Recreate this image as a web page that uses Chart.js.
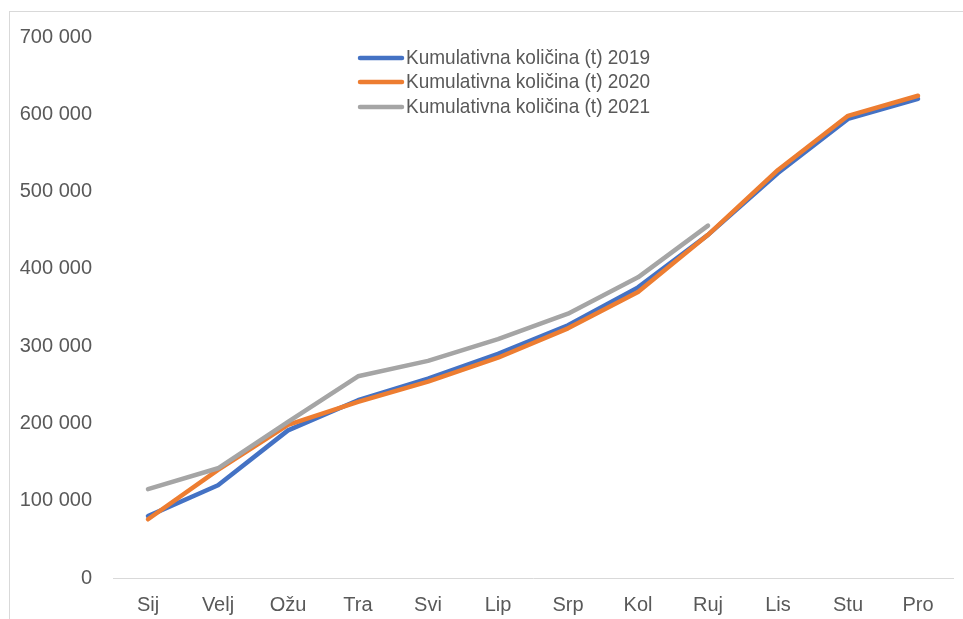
<!DOCTYPE html>
<html>
<head>
<meta charset="utf-8">
<script src="https://cdn.jsdelivr.net/npm/chart.js@4.4.1/dist/chart.umd.min.js"></script>
<style>
  html, body { margin: 0; padding: 0; background: #fff; overflow: hidden; }
  #wrap { position: relative; width: 963px; height: 619px; }
  #frame { position: absolute; left: 9px; top: 11px; width: 1000px; height: 700px;
           border: 1px solid #d9d9d9; pointer-events: none; }
  canvas { position: absolute; left: 0; top: 0; }
</style>
</head>
<body>
<div id="wrap">
  <div id="frame"></div>
  <canvas id="kumChart" width="963" height="619"></canvas>
</div>
<script>
// Mjeseci
const months = ['Sij', 'Velj', 'Ožu', 'Tra', 'Svi', 'Lip', 'Srp', 'Kol', 'Ruj', 'Lis', 'Stu', 'Pro'];

// Kumulativne količine (t), očitano s grafa
const kol2019 = [80000, 120000, 191000, 230000, 258000, 290000, 327000, 376000, 444000, 524000, 594000, 620000];
const kol2020 = [76000, 140000, 198000, 228000, 254000, 285000, 323000, 370000, 444000, 528000, 598000, 624000];
const kol2021 = [115000, 142000, 202000, 261000, 281000, 309000, 342000, 389000, 456000, null, null, null];

const yTicks = [0, 100000, 200000, 300000, 400000, 500000, 600000, 700000];

const fontFamily = "'Liberation Sans', Arial, sans-serif";
const textColor = '#595959';

function fmt(v) {
    return v.toString().replace(/\B(?=(\d{3})+(?!\d))/g, ' ');
}

// Legenda unutar područja grafa, jedna ispod druge (tekst malo sužen)
const insideLegend = {
    id: 'insideLegend',
    afterDraw(chart) {
        const ctx = chart.ctx;
        const rows = [58, 82, 107];
        const squeeze = 0.905;
        ctx.save();
        ctx.font = '21px ' + fontFamily;
        ctx.textBaseline = 'middle';
        ctx.textAlign = 'left';
        chart.data.datasets.forEach((ds, i) => {
            const y = rows[i];
            ctx.strokeStyle = ds.borderColor;
            ctx.lineWidth = 4.5;
            ctx.lineCap = 'round';
            ctx.beginPath();
            ctx.moveTo(360, y);
            ctx.lineTo(402, y);
            ctx.stroke();
            ctx.save();
            ctx.translate(406, y);
            ctx.scale(squeeze, 1);
            ctx.fillStyle = textColor;
            ctx.fillText(ds.label, 0, 0);
            ctx.restore();
        });
        ctx.restore();
    }
};

const ctx = document.getElementById('kumChart').getContext('2d');

new Chart(ctx, {
    type: 'line',
    data: {
        labels: months,
        datasets: [
            { label: 'Kumulativna količina (t) 2019', data: kol2019, borderColor: '#4472C4', order: 3 },
            { label: 'Kumulativna količina (t) 2020', data: kol2020, borderColor: '#ED7D31', order: 2 },
            { label: 'Kumulativna količina (t) 2021', data: kol2021, borderColor: '#A5A5A5', order: 1 }
        ]
    },
    options: {
        responsive: false,
        animation: false,
        layout: { padding: { top: 37, right: 10, left: 0, bottom: 0 } },
        elements: {
            line: { borderWidth: 4.5, tension: 0, borderCapStyle: 'round', borderJoinStyle: 'round', fill: false },
            point: { radius: 0, hoverRadius: 0 }
        },
        plugins: {
            legend: { display: false },
            tooltip: { enabled: false }
        },
        scales: {
            x: {
                offset: true,
                grid: { display: false, drawTicks: false },
                border: { display: true, color: '#d9d9d9', width: 1 },
                ticks: { color: textColor, font: { family: fontFamily, size: 20 }, padding: 15, maxRotation: 0 },
                afterFit(scale) { scale.height = 41; }
            },
            y: {
                min: 0,
                max: 700000,
                grid: { display: false, drawTicks: false },
                border: { display: false },
                afterBuildTicks(scale) { scale.ticks = yTicks.map(v => ({ value: v })); },
                ticks: {
                    color: textColor,
                    font: { family: fontFamily, size: 20 },
                    padding: 21,
                    callback: (v) => fmt(v)
                },
                afterFit(scale) { scale.width = 113; }
            }
        }
    },
    plugins: [insideLegend]
});
</script>
</body>
</html>
